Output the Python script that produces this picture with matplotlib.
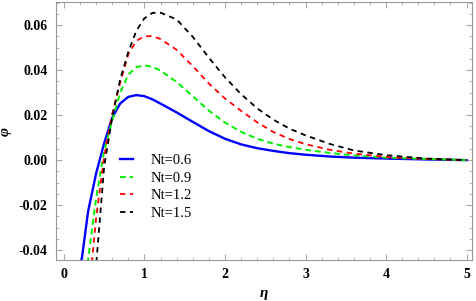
import matplotlib.pyplot as plt
from matplotlib.ticker import FormatStrFormatter, MultipleLocator

# eta grid and phi values
eta = [0.2, 0.3, 0.4, 0.5, 0.6, 0.7, 0.8, 0.9, 1.0, 1.1, 1.2, 1.4, 1.6,
       1.8, 2.0, 2.2, 2.4, 2.6, 2.8, 3.0, 3.3, 3.6, 4.0, 4.5, 5.0]
phi_06 = [-0.050, -0.023, -0.006, 0.0075, 0.0188, 0.0252, 0.0281, 0.0289, 0.0284,
          0.0270, 0.0251, 0.0212, 0.0170, 0.0129, 0.0095, 0.0070, 0.0053, 0.0041,
          0.0031, 0.0024, 0.0016, 0.0011, 0.0007, 0.0003, 0.0]
phi_09 = [-0.075, -0.0444, -0.017, 0.004, 0.0175, 0.0300, 0.0380, 0.0413, 0.0421,
          0.0414, 0.0398, 0.0347, 0.0284, 0.0220, 0.0167, 0.0126, 0.0095, 0.0073,
          0.0058, 0.0046, 0.0032, 0.0021, 0.0011, 0.0005, 0.0]
phi_12 = [-0.10, -0.063, -0.026, 0.0015, 0.0205, 0.0345, 0.0470, 0.0530, 0.0550,
          0.0551, 0.0538, 0.0490, 0.0418, 0.0340, 0.0274, 0.0219, 0.0168, 0.0125,
          0.0094, 0.0071, 0.0046, 0.0029, 0.0014, 0.0005, 0.0]
phi_15 = [-0.14, -0.09, -0.047, -0.003, 0.0190, 0.0360, 0.0480, 0.0575, 0.0630,
          0.0654, 0.0655, 0.0625, 0.0548, 0.0455, 0.0368, 0.0293, 0.0230, 0.0180,
          0.0140, 0.0110, 0.0072, 0.0043, 0.0022, 0.0007, 0.0]
labels = ["Nt=0.6", "Nt=0.9", "Nt=1.2", "Nt=1.5"]

plt.rcParams['font.family'] = ['Liberation Serif', 'DejaVu Serif']

fig = plt.figure(figsize=(4.77, 3.01), dpi=100)
ax = fig.add_axes([0.117, 0.136, 0.873, 0.857])

ax.plot(eta, phi_06, color='#0000ff', lw=1.7, label=labels[0])
ax.plot(eta, phi_09, color='#00ee00', lw=1.4, ls=(0, (3, 2)), label=labels[1])
ax.plot(eta, phi_12, color='#ff0000', lw=1.3, ls=(0, (3, 2.5)), label=labels[2])
ax.plot(eta, phi_15, color='black', lw=1.3, ls=(0, (3, 2.5)), label=labels[3])

ax.set_xlim(-0.1, 5.07)
ax.set_ylim(-0.0444, 0.0702)
ax.set_xticks([0, 1, 2, 3, 4, 5])
ax.set_yticks([-0.04, -0.02, 0.0, 0.02, 0.04, 0.06])
ax.yaxis.set_major_formatter(FormatStrFormatter('%.2f'))
ax.xaxis.set_minor_locator(MultipleLocator(0.2))
ax.yaxis.set_minor_locator(MultipleLocator(0.005))

for s in ax.spines.values():
    s.set_color('#999999')
ax.tick_params(which='both', direction='in', top=True, right=True, color='#aaaaaa')
ax.tick_params(which='major', length=4, labelsize=10, pad=6)
ax.tick_params(which='minor', length=2)
for t in ax.get_xticklabels() + ax.get_yticklabels():
    t.set_fontweight('bold')

ax.set_xlabel('η', fontsize=11, style='italic', fontweight='bold')
ax.set_ylabel('φ', fontsize=11, style='italic', fontweight='bold', rotation=90)
ax.xaxis.set_label_coords(0.5, -0.105)
ax.yaxis.set_label_coords(-0.105, 0.5)

ax.legend(loc='center left', bbox_to_anchor=(0.155, 0.283), frameon=False,
          fontsize=10.5, handlelength=0.9, handletextpad=1.2, labelspacing=0.3,
          borderpad=0, borderaxespad=0)

fig.savefig('out.png', dpi=100)
